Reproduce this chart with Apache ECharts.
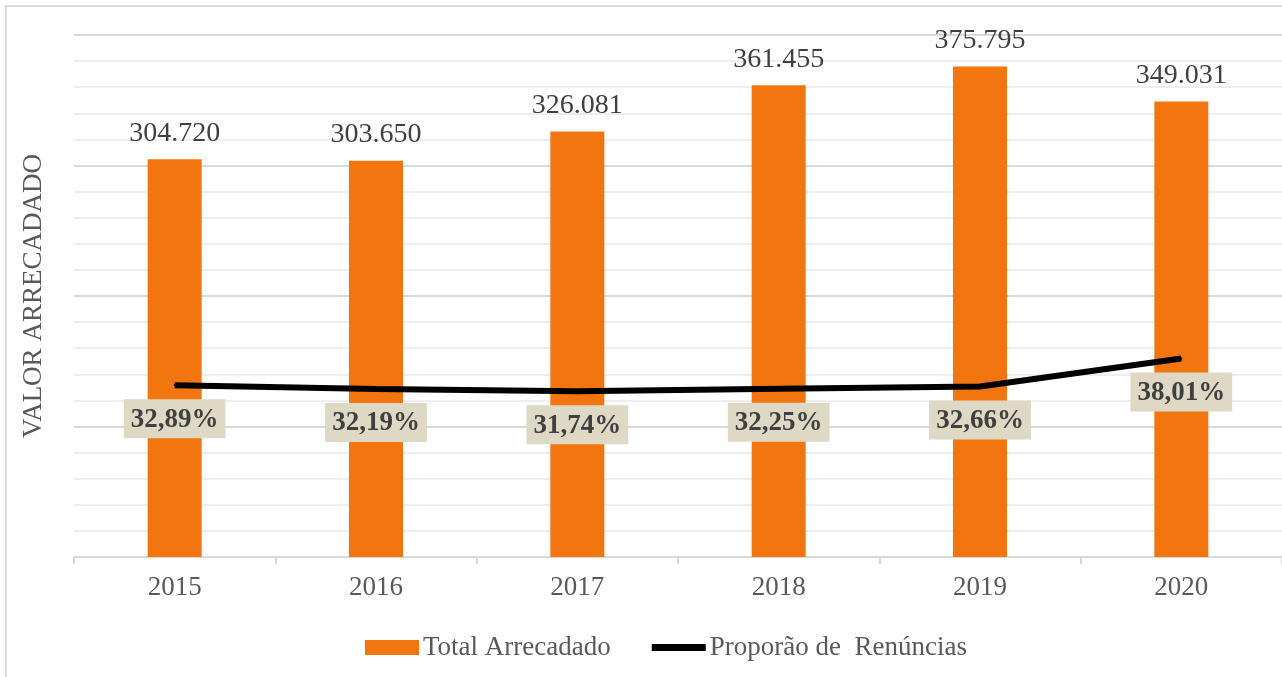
<!DOCTYPE html>
<html>
<head>
<meta charset="utf-8">
<script src="https://cdn.jsdelivr.net/npm/echarts@6/dist/echarts.min.js"></script>
<style>
  html, body { margin: 0; padding: 0; background: #fff; }
  #chart { width: 1282px; height: 677px; }
</style>
</head>
<body>
<div id="chart"></div>
<script>
// dados do gráfico
var anos = ['2015', '2016', '2017', '2018', '2019', '2020'];
var totalArrecadado = [304720, 303650, 326081, 361455, 375795, 349031];
var proporcaoRenuncias = [32.89, 32.19, 31.74, 32.25, 32.66, 38.01];
var nomeBarra = 'Total Arrecadado';
var nomeLinha = 'Proporão de  Renúncias';
var nomeEixo = 'VALOR ARRECADADO';

var FONTE = '"Liberation Serif", "Times New Roman", serif';

function formatMilhar(v) {
	return String(v).replace(/\B(?=(\d{3})+(?!\d))/g, '.');
}
function formatPct(v) {
	return v.toFixed(2).replace('.', ',') + '%';
}

var myChart = echarts.init(document.getElementById('chart'));
myChart.setOption({
	animation: false,
	backgroundColor: '#fff',
	textStyle: { fontFamily: FONTE },
	graphic: [{
		type: 'rect',
		shape: { x: 6, y: 6, width: 1300, height: 700 },
		style: { fill: 'none', stroke: '#d9d9d9', lineWidth: 2 },
		silent: true
	}],
	grid: { left: 74, top: 35, width: 1211, height: 522 },
	legend: {
		left: 360,
		top: 629,
		itemWidth: 54,
		itemHeight: 15,
		itemGap: 41,
		textStyle: { fontFamily: FONTE, fontSize: 27, color: '#595959', padding: [0, 0, 0, -1] },
		data: [
			{ name: nomeBarra, icon: 'rect' },
			{ name: nomeLinha, icon: 'path://M0,0H60V8H0Z', itemStyle: { color: '#000' } }
		]
	},
	xAxis: {
		type: 'category',
		data: anos,
		axisLine: { lineStyle: { color: '#d9d9d9', width: 2 } },
		axisTick: { show: true, length: 7, lineStyle: { color: '#d9d9d9', width: 2 } },
		axisLabel: { fontFamily: FONTE, fontSize: 27, color: '#595959', margin: 17 }
	},
	yAxis: [{
		type: 'value',
		min: 0,
		max: 400000,
		interval: 100000,
		name: nomeEixo,
		nameLocation: 'middle',
		nameGap: 27,
		nameTextStyle: { fontFamily: FONTE, fontSize: 27, color: '#595959' },
		axisLabel: { show: false },
		axisLine: { show: false },
		axisTick: { show: false },
		splitLine: { lineStyle: { color: '#d9d9d9', width: 2 } },
		minorTick: { show: false, splitNumber: 5 },
		minorSplitLine: { show: true, lineStyle: { color: '#eeeeee', width: 2 } }
	}, {
		type: 'value',
		min: 0,
		max: 100,
		show: false,
		splitLine: { show: false }
	}],
	series: [{
		name: nomeBarra,
		type: 'bar',
		data: totalArrecadado,
		barWidth: 54,
		itemStyle: { color: '#F37510' },
		label: {
			show: true,
			position: 'top',
			distance: 12,
			fontFamily: FONTE,
			fontSize: 28,
			color: '#404040',
			formatter: function(p) { return formatMilhar(p.value); }
		}
	}, {
		name: nomeLinha,
		type: 'line',
		yAxisIndex: 1,
		data: proporcaoRenuncias,
		symbol: 'circle',
		symbolSize: 2,
		showSymbol: true,
		lineStyle: { color: '#000', width: 6 },
		itemStyle: { color: '#000' },
		z: 3,
		label: {
			show: true,
			position: 'bottom',
			distance: 13,
			fontFamily: FONTE,
			fontSize: 27,
			fontWeight: 'bold',
			color: '#404040',
			backgroundColor: '#DDD9C4',
			padding: [7, 7, 5, 7],
			formatter: function(p) { return formatPct(p.value); }
		}
	}]
});
</script>
</body>
</html>
